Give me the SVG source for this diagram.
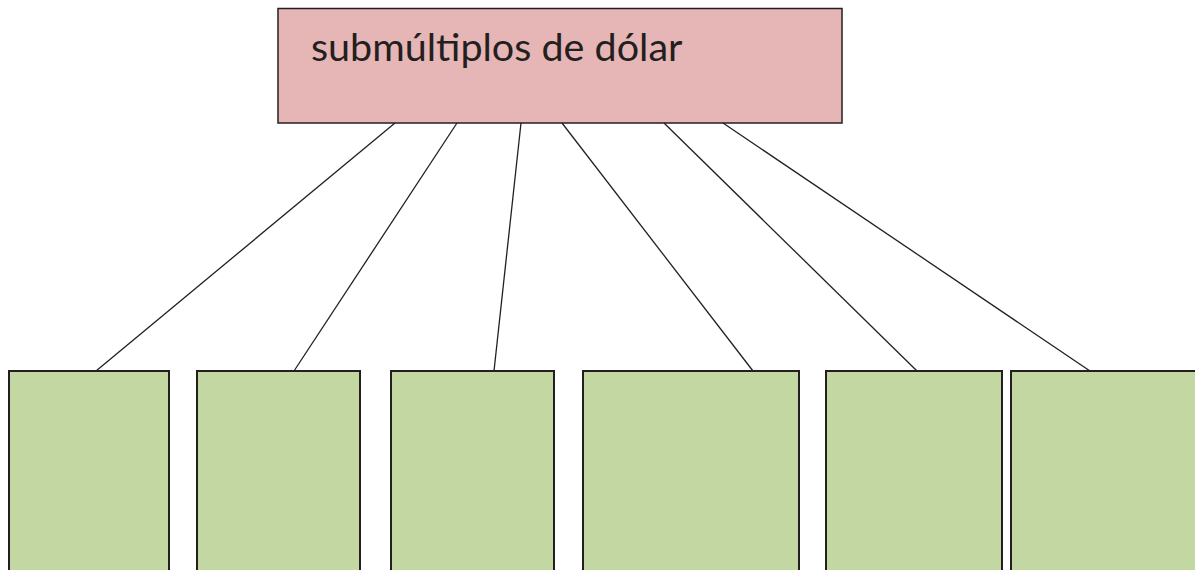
<svg xmlns="http://www.w3.org/2000/svg" width="1195" height="570" viewBox="0 0 1195 570">
<style>
.top{fill:#e6b5b6;stroke:#231f20;stroke-width:1.5}
.leaf{fill:#c2d7a2;stroke:#231f20;stroke-width:2}
.conn line{stroke:#231f20;stroke-width:1.3}
.lbl{font-family:Lato,"Open Sans",sans-serif;font-size:39.5px;fill:#231f20}
</style>
<rect width="1195" height="570" fill="#ffffff"/>
<g id="root">
<rect class="top" x="278" y="8.5" width="564" height="114.5"/>
<text class="lbl" x="311" y="61">submúltiplos de dólar</text>
</g>
<g class="conn" id="connectors">
<line x1="395" y1="123" x2="96" y2="371"/>
<line x1="457" y1="123" x2="294" y2="371"/>
<line x1="521" y1="123" x2="494" y2="371"/>
<line x1="562" y1="123" x2="753" y2="371"/>
<line x1="664" y1="123" x2="917" y2="371"/>
<line x1="723" y1="123" x2="1090" y2="371"/>
</g>
<g id="leaf1"><rect class="leaf" x="9" y="371" width="160" height="204"/></g>
<g id="leaf2"><rect class="leaf" x="197" y="371" width="163" height="204"/></g>
<g id="leaf3"><rect class="leaf" x="391" y="371" width="163" height="204"/></g>
<g id="leaf4"><rect class="leaf" x="583" y="371" width="216" height="204"/></g>
<g id="leaf5"><rect class="leaf" x="826" y="371" width="176" height="204"/></g>
<g id="leaf6"><rect class="leaf" x="1011" y="371" width="190" height="204"/></g>
</svg>
